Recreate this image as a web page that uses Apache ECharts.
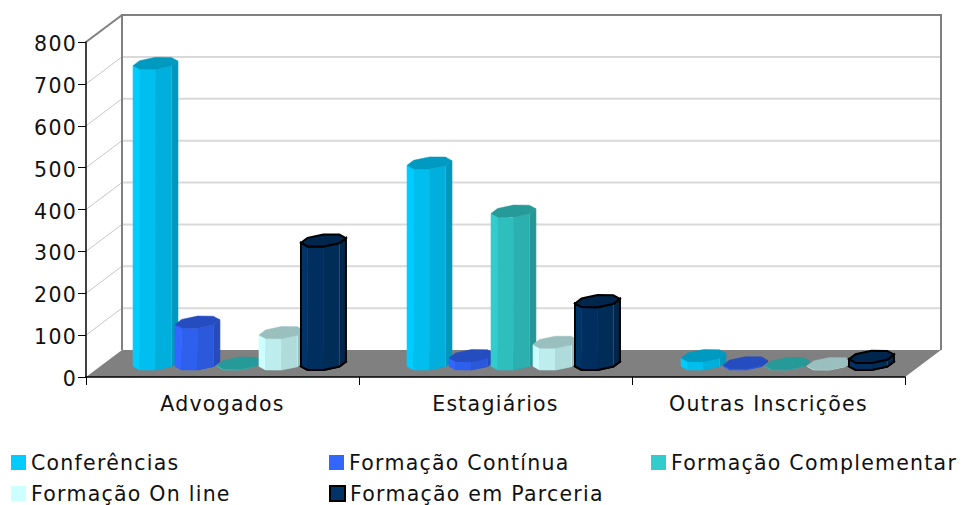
<!DOCTYPE html>
<html><head><meta charset="utf-8">
<style>html,body{margin:0;padding:0;background:#fff;letter-spacing:1.25px}#c{width:962px;height:505px}</style>
<script src="https://cdn.jsdelivr.net/npm/echarts@6/dist/echarts.min.js"></script>
</head><body><div id="c"></div>
<script>
const categories = ['Advogados', 'Estagiários', 'Outras Inscrições'];
const seriesNames = ['Conferências', 'Formação Contínua', 'Formação Complementar', 'Formação On line', 'Formação em Parceria'];
const conferencias = [718, 480, 20];
const continua = [100, 20, 3];
const complementar = [2, 365, 1];
const online = [75, 52, 1];
const parceria = [295, 150, 17];
const colors = ['#00ccff', '#3366ff', '#33cccc', '#ccffff', '#003366'];
const caps = ['#009ac0', '#264dc0', '#269999', '#99bfbf', '#00264d'];
const gridTicks = [0, 100, 200, 300, 400, 500, 600, 700, 800];
const legendPos = [[11, 452], [329, 452], [651, 452], [11, 483], [329, 483]];

const DX = 36, DY = 27;         // depth of the chart box
const R = 21, SX = 8, SY = 6.5; // oblique projection of a cylinder's cross-section
const N = 8, START = 21;

function shade(hex, f) {
  const n = parseInt(hex.slice(1), 16);
  const c = [(n >> 16) & 255, (n >> 8) & 255, n & 255].map(v => Math.round(v * f));
  return `rgb(${c[0]},${c[1]},${c[2]})`;
}
function ring(cx, cy) {
  const pts = [];
  for (let k = 0; k <= N; k++) {
    const t = (START + k * 360 / N) * Math.PI / 180;
    pts.push([cx + R * Math.cos(t) + SX * Math.sin(t), cy - SY * Math.sin(t)]);
  }
  return pts;
}
const facet = [1, 0.93, 0.86, 0.74];

function cylinder(sIdx) {
  return function (params, api) {
    const base = api.coord([api.value(0), 0]);
    const top = api.coord([api.value(0), api.value(1)]);
    const band = api.size([1, 0])[0];
    const cx = base[0] + band * (0.0622 + api.value(0) * 0.0037) + (sIdx - 2) * band * 0.1538;
    const y0 = base[1] - DY / 2 + 0.5, y1 = top[1] - DY / 2 + 0.5;
    const rb = ring(cx, y0), rt = ring(cx, y1);
    const dark = sIdx === 4;
    const children = [];
    const half = N / 2;
    children.push({ type: 'polygon', shape: { points: rb }, style: { fill: caps[sIdx], stroke: dark ? '#000' : 'none', lineWidth: dark ? 2 : 0 } });
    for (let i = 0; i < half; i++) {
      const a = half + i, b = a + 1;
      children.push({
        type: 'polygon',
        shape: { points: [rt[a], rt[b], rb[b], rb[a]] },
        style: { fill: shade(colors[sIdx], facet[i]), stroke: shade(colors[sIdx], facet[i]), lineWidth: 0.6 }
      });
    }
    if (y0 - y1 > 6) {
      children.push({
        type: 'line',
        shape: { x1: rt[N - 1][0], y1: rt[N - 1][1], x2: rb[N - 1][0], y2: rb[N - 1][1] },
        style: { stroke: dark ? '#335c85' : shade(colors[sIdx], 1.0), lineWidth: 1, opacity: 0.75 }
      });
    }
    if (dark) {
      const outline = rb.slice(half, N + 1).concat(rt.slice(half, N + 1).reverse());
      children.push({ type: 'polygon', shape: { points: outline }, style: { fill: 'none', stroke: '#000', lineWidth: 2 } });
    }
    children.push({ type: 'polygon', shape: { points: rt }, style: { fill: caps[sIdx], stroke: dark ? '#000' : caps[sIdx], lineWidth: dark ? 2 : 0.5 } });
    return { type: 'group', children };
  };
}

function box(params, api) {
  const cs = params.coordSys;
  const xL = cs.x, xR = cs.x + cs.width, yB = cs.y + cs.height, yT = cs.y;
  const ch = [];
  ch.push({ type: 'polygon', shape: { points: [[xL + DX, yT - DY], [xR + DX, yT - DY], [xR + DX, yB - DY], [xL + DX, yB - DY]] }, style: { fill: '#fff' } });
  gridTicks.forEach(v => {
    if (v === 0) return;
    const y = api.coord([0, v])[1];
    if (v !== 800) {
      ch.push({ type: 'line', shape: { x1: xL + DX, y1: y - DY, x2: xR + DX, y2: y - DY }, style: { stroke: '#d9d9d9', lineWidth: 2 } });
      ch.push({ type: 'line', shape: { x1: xL, y1: y, x2: xL + DX, y2: y - DY }, style: { stroke: '#c8c8c8', lineWidth: 1 } });
    }
  });
  ch.push({ type: 'polygon', shape: { points: [[xL, yB], [xL + DX, yB - DY], [xR + DX, yB - DY], [xR, yB]] }, style: { fill: '#808080' } });
  const edge = { stroke: '#808080', lineWidth: 2 };
  ch.push({ type: 'polyline', shape: { points: [[xL + DX, yB - DY], [xL + DX, yT - DY], [xR + DX, yT - DY], [xR + DX, yB - DY]] }, style: { ...edge, fill: 'none' } });
  ch.push({ type: 'line', shape: { x1: xL, y1: yT, x2: xL + DX, y2: yT - DY }, style: edge });
  return { type: 'group', children: ch };
}

const values = [conferencias, continua, complementar, online, parceria];
const labelFont = 'DejaVu Sans';
const option = {
  animation: false,
  backgroundColor: '#fff',
  grid: { left: 86, top: 42, width: 819, height: 335 },
  xAxis: {
    type: 'category', data: categories, z: 6,
    axisLine: { lineStyle: { color: '#000', width: 1.5 } },
    axisTick: { show: true, length: 8, lineStyle: { color: '#000', width: 1 } },
    axisLabel: { fontFamily: labelFont, fontSize: 20.5, color: '#111', margin: 16 }
  },
  yAxis: {
    type: 'value', min: 0, max: 800, interval: 100, z: 6,
    splitLine: { show: false },
    axisLine: { show: true, lineStyle: { color: '#000', width: 1.5 } },
    axisTick: { show: true, length: 8, lineStyle: { color: '#000', width: 1 } },
    axisLabel: {
      color: '#111', margin: 9,
      formatter: '{v|{value}}',
      rich: { v: { fontFamily: labelFont, fontSize: 20.5, color: '#111', padding: [4, 0, 0, 0] } }
    }
  },
  legend: seriesNames.map((n, i) => ({
    data: [n], left: legendPos[i][0], top: legendPos[i][1], padding: 0,
    itemWidth: 15, itemHeight: 15, itemGap: 0,
    icon: 'rect',
    selectedMode: false,
    textStyle: { fontFamily: labelFont, fontSize: 20.5, color: '#111' }
  })),
  series: [
    { type: 'custom', name: 'box', renderItem: box, data: [0], silent: true, clip: false, encode: { x: 0, y: 0 }, tooltip: { show: false } }
  ].concat(seriesNames.map((n, i) => ({
    type: 'custom', name: n, renderItem: cylinder(i), clip: false,
    itemStyle: { color: colors[i], borderColor: i === 4 ? '#000' : colors[i], borderWidth: i === 4 ? 2 : 0 },
    encode: { x: 0, y: 1 },
    data: values[i].map((v, c) => [c, v])
  })))
};
const chart = echarts.init(document.getElementById('c'), null, { renderer: 'svg' });
chart.setOption(option);
</script></body></html>
